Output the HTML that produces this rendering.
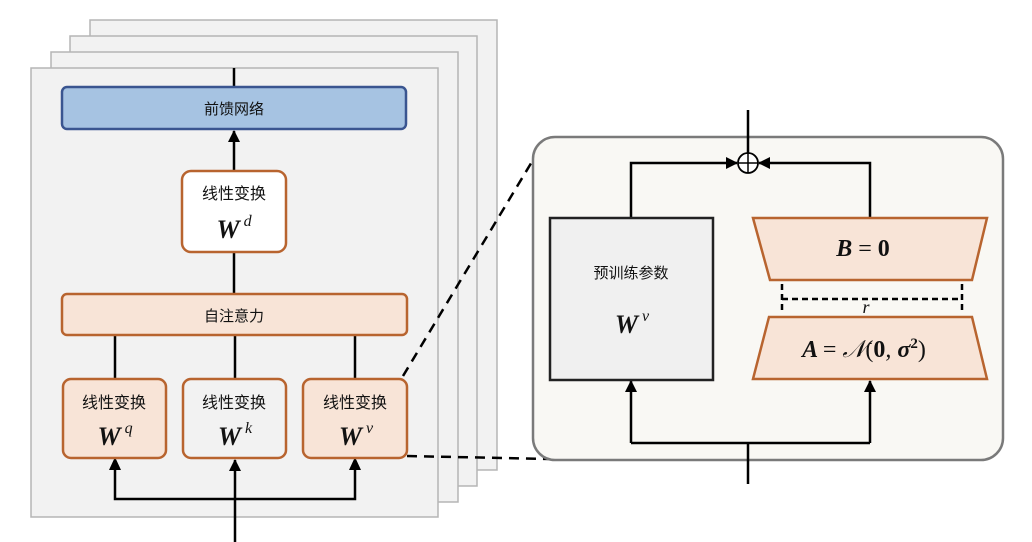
<!DOCTYPE html>
<html><head><meta charset="utf-8"><style>
html,body{margin:0;padding:0;background:#fff;}
svg{display:block;}
.cn{font-family:"Liberation Sans","Noto Sans CJK SC",sans-serif;fill:#111;}
.m{font-family:"Liberation Serif","DejaVu Serif",serif;font-weight:bold;font-style:italic;fill:#111;}
.mu{font-family:"Liberation Serif","DejaVu Serif",serif;fill:#111;}
</style></head><body>
<svg width="1032" height="542" viewBox="0 0 1032 542" xmlns="http://www.w3.org/2000/svg">
<defs>
<marker id="ar" markerWidth="12" markerHeight="12" refX="11" refY="6" orient="auto" markerUnits="userSpaceOnUse">
<path d="M0,0 L12,6 L0,12 z" fill="#000"/></marker>
</defs>
<rect x="90" y="20" width="407" height="450" fill="#f2f2f2" stroke="#b5b5b5" stroke-width="1.5"/>
<rect x="70" y="36" width="407" height="450" fill="#f2f2f2" stroke="#b5b5b5" stroke-width="1.5"/>
<rect x="51" y="52" width="407" height="450" fill="#f2f2f2" stroke="#b5b5b5" stroke-width="1.5"/>
<rect x="31" y="68" width="407" height="449" fill="#f2f2f2" stroke="#b5b5b5" stroke-width="1.5"/>

<g stroke="#000" stroke-width="2.5" fill="none">
<line x1="234" y1="68" x2="234" y2="87"/>
<line x1="234" y1="171" x2="234" y2="131" marker-end="url(#ar)"/>
<line x1="234" y1="252" x2="234" y2="294"/>
<line x1="115" y1="336" x2="115" y2="380"/>
<line x1="235" y1="336" x2="235" y2="380"/>
<line x1="355" y1="336" x2="355" y2="380"/>
<line x1="235" y1="542" x2="235" y2="460" marker-end="url(#ar)"/>
<polyline points="115,466 115,499 355,499 355,466"/>
</g>
<path d="M115,457 L109,470 L121,470 z M355,457 L349,470 L361,470 z" fill="#000"/>

<rect x="62" y="87" width="344" height="42" rx="5" fill="#a6c3e2" stroke="#3a5590" stroke-width="2.5"/>
<text x="234" y="114" text-anchor="middle" class="cn" font-size="15">前馈网络</text>

<rect x="182" y="171" width="104" height="81" rx="9" fill="#fff" stroke="#b8642f" stroke-width="2.5"/>
<text x="234" y="199" text-anchor="middle" class="cn" font-size="16">线性变换</text>
<text x="234" y="238" text-anchor="middle" class="m" font-size="26">W<tspan font-size="16" dx="4" dy="-12" font-weight="normal">d</tspan></text>

<rect x="62" y="294" width="345" height="41" rx="5" fill="#f8e4d7" stroke="#b8642f" stroke-width="2.5"/>
<text x="234" y="321" text-anchor="middle" class="cn" font-size="15">自注意力</text>

<rect x="63" y="379" width="103" height="79" rx="8" fill="#f8e4d7" stroke="#b8642f" stroke-width="2.5"/>
<text x="114" y="408" text-anchor="middle" class="cn" font-size="16">线性变换</text>
<text x="115" y="445" text-anchor="middle" class="m" font-size="26">W<tspan font-size="16" dx="4" dy="-12" font-weight="normal">q</tspan></text>

<rect x="183" y="379" width="103" height="79" rx="8" fill="#f2f2f2" stroke="#b8642f" stroke-width="2.5"/>
<text x="234" y="408" text-anchor="middle" class="cn" font-size="16">线性变换</text>
<text x="235" y="445" text-anchor="middle" class="m" font-size="26">W<tspan font-size="16" dx="4" dy="-12" font-weight="normal">k</tspan></text>

<rect x="303" y="379" width="104" height="79" rx="8" fill="#f8e4d7" stroke="#b8642f" stroke-width="2.5"/>
<text x="355" y="408" text-anchor="middle" class="cn" font-size="16">线性变换</text>
<text x="356" y="445" text-anchor="middle" class="m" font-size="26">W<tspan font-size="16" dx="4" dy="-12" font-weight="normal">v</tspan></text>

<g stroke="#000" stroke-width="2.5" stroke-dasharray="10,7" fill="none">
<line x1="403" y1="376" x2="536" y2="155"/>
<line x1="407" y1="456" x2="550" y2="459"/>
</g>

<rect x="533" y="137" width="470" height="323" rx="22" fill="#f9f8f4" stroke="#7a7a7a" stroke-width="2.5"/>
<g stroke="#000" stroke-width="2.5" fill="none">
<line x1="748" y1="110" x2="748" y2="153"/>
<polyline points="631,218 631,163 737,163" marker-end="url(#ar)"/>
<polyline points="870,218 870,163 759,163" marker-end="url(#ar)"/>
<line x1="748" y1="484" x2="748" y2="443"/>
<polyline points="631,443 870,443"/>
<line x1="631" y1="443" x2="631" y2="381" marker-end="url(#ar)"/>
<line x1="870" y1="443" x2="870" y2="381" marker-end="url(#ar)"/>
</g>
<circle cx="748" cy="163" r="10" fill="#fff" stroke="#000" stroke-width="1.8"/>
<line x1="738" y1="163" x2="758" y2="163" stroke="#000" stroke-width="1.5"/>
<line x1="748" y1="153" x2="748" y2="173" stroke="#000" stroke-width="1.5"/>

<rect x="550" y="218" width="163" height="162" fill="#f0f0f0" stroke="#222" stroke-width="2.5"/>
<text x="631" y="278" text-anchor="middle" class="cn" font-size="15">预训练参数</text>
<text x="632" y="333" text-anchor="middle" class="m" font-size="26">W<tspan font-size="16" dx="4" dy="-12" font-weight="normal">v</tspan></text>

<polygon points="753,218 987,218 972,280 770,280" fill="#f8e4d7" stroke="#b8642f" stroke-width="2.5"/>
<text x="863" y="256" text-anchor="middle" class="m" font-size="24">B <tspan class="mu" font-style="normal" font-weight="normal">=</tspan> <tspan font-style="normal">0</tspan></text>
<polygon points="769,317 972,317 987,379 753,379" fill="#f8e4d7" stroke="#b8642f" stroke-width="2.5"/>
<text x="864" y="357" text-anchor="middle" class="m" font-size="24">A <tspan font-style="normal" font-weight="normal">=</tspan> <tspan font-style="italic" font-weight="normal">𝒩</tspan><tspan font-style="normal" font-weight="normal">(</tspan><tspan font-style="normal">0</tspan><tspan font-weight="normal">, </tspan>σ<tspan font-style="normal" font-size="15" dy="-9">2</tspan><tspan font-style="normal" font-weight="normal" dy="9">)</tspan></text>

<g stroke="#000" stroke-width="2.5" stroke-dasharray="6,4" fill="none">
<line x1="782" y1="284" x2="782" y2="313"/>
<line x1="962" y1="284" x2="962" y2="313"/>
<line x1="782" y1="299" x2="962" y2="299"/>
</g>
<text x="866" y="313" text-anchor="middle" class="mu" font-style="italic" font-size="18">r</text>
</svg>
</body></html>
